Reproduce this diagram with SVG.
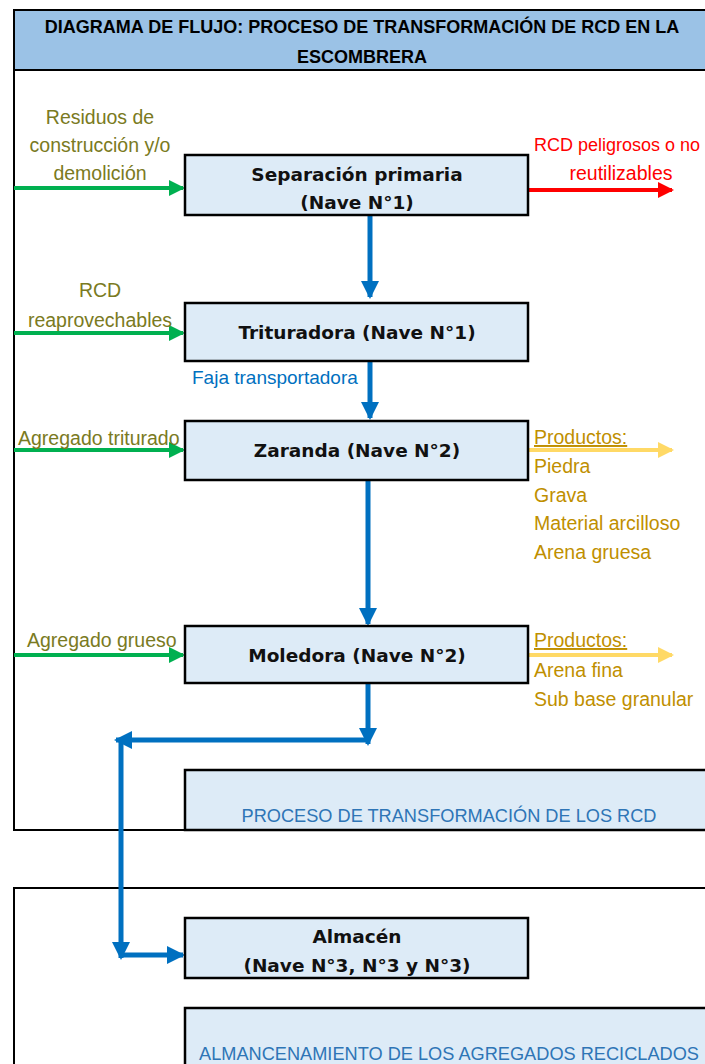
<svg xmlns="http://www.w3.org/2000/svg" width="705" height="1064" viewBox="0 0 705 1064">
<defs>
<style>
.frame{fill:none;stroke:#000;stroke-width:2}
.box{fill:#DDEBF7;stroke:#000;stroke-width:2.5}
.bt{font-family:"DejaVu Sans",Verdana,sans-serif;font-weight:bold;font-size:18.5px;fill:#111;text-anchor:middle}
.title{font-family:"Liberation Sans",Arial,sans-serif;font-weight:bold;font-size:18px;fill:#000;text-anchor:middle}
.gl{font-family:"Liberation Sans",Arial,sans-serif;font-size:19.5px;fill:#7A7A22;text-anchor:middle}
.gls{font-family:"Liberation Sans",Arial,sans-serif;font-size:19.5px;fill:#7A7A22}
.pr{font-family:"Liberation Sans",Arial,sans-serif;font-size:19.5px;fill:#BF8F00}
.red{font-family:"Liberation Sans",Arial,sans-serif;font-size:19.5px;fill:#FF0000}
.red2{font-family:"Liberation Sans",Arial,sans-serif;font-size:18px;fill:#FF0000}
.blt{font-family:"Liberation Sans",Arial,sans-serif;font-size:19px;fill:#0070C0}
.sect{font-family:"Liberation Sans",Arial,sans-serif;font-size:18.2px;fill:#2E75B6;text-anchor:middle}
.g{stroke:#00B050;stroke-width:4;fill:none}
.r{stroke:#FF0000;stroke-width:4;fill:none}
.y{stroke:#FFD966;stroke-width:4;fill:none}
.b{stroke:#0070C0;stroke-width:5;fill:none}
</style>
<marker id="ag" markerUnits="userSpaceOnUse" markerWidth="16" markerHeight="16" refX="14" refY="8" orient="auto"><path d="M0,0 L16,8 L0,16 Z" fill="#00B050"/></marker>
<marker id="ar" markerUnits="userSpaceOnUse" markerWidth="16" markerHeight="16" refX="14" refY="8" orient="auto"><path d="M0,0 L16,8 L0,16 Z" fill="#FF0000"/></marker>
<marker id="ay" markerUnits="userSpaceOnUse" markerWidth="16" markerHeight="16" refX="14" refY="8" orient="auto"><path d="M0,0 L16,8 L0,16 Z" fill="#FFD966"/></marker>
<marker id="ab" markerUnits="userSpaceOnUse" markerWidth="18" markerHeight="18" refX="16" refY="9" orient="auto"><path d="M0,0 L18,9 L0,18 Z" fill="#0070C0"/></marker>
</defs>
<rect width="705" height="1064" fill="#fff"/>

<g id="frame-top">
<path class="frame" d="M14,10 V830 H720"/>
<rect x="14" y="10" width="720" height="60" fill="#9BC2E6" stroke="#000" stroke-width="2"/>
<text class="title" x="362" y="33">DIAGRAMA DE FLUJO: PROCESO DE TRANSFORMACIÓN DE RCD EN LA</text>
<text class="title" x="362" y="63">ESCOMBRERA</text>
</g>
<g id="frame-bottom">
<path class="frame" d="M14,1070 V888 H720"/>
</g>

<g id="connectors">
<path class="g" d="M14,188 H183" marker-end="url(#ag)"/>
<path class="g" d="M14,333 H183" marker-end="url(#ag)"/>
<path class="g" d="M14,450 H183" marker-end="url(#ag)"/>
<path class="g" d="M14,655 H183" marker-end="url(#ag)"/>
<path class="r" d="M529,190 H672" marker-end="url(#ar)"/>
<path class="y" d="M529,450 H672" marker-end="url(#ay)"/>
<path class="y" d="M529,655 H672" marker-end="url(#ay)"/>
<path class="b" d="M370,216 V297" marker-end="url(#ab)"/>
<path class="b" d="M370,362 V418" marker-end="url(#ab)"/>
<path class="b" d="M368,481 V624" marker-end="url(#ab)"/>
<path class="b" d="M368,684 V744" marker-end="url(#ab)"/>
<path class="b" d="M368,740 H116" marker-end="url(#ab)"/>
<path class="b" d="M121,740 V958" marker-end="url(#ab)"/>
<path class="b" d="M121,955 H183" marker-end="url(#ab)"/>
</g>

<g id="labels">
<text class="gl" x="100" y="124">Residuos de</text>
<text class="gl" x="100" y="152">construcción y/o</text>
<text class="gl" x="100" y="180">demolición</text>
<text class="gl" x="100" y="297">RCD</text>
<text class="gl" x="100" y="327">reaprovechables</text>
<text class="gls" x="18" y="445">Agregado triturado</text>
<text class="gls" x="27" y="647">Agregado grueso</text>
<text class="red2" x="534" y="151">RCD peligrosos o no</text>
<text class="red" x="621" y="180" text-anchor="middle">reutilizables</text>
<text class="blt" x="192" y="384">Faja transportadora</text>
<text class="pr" x="534" y="444" text-decoration="underline">Productos:</text>
<text class="pr" x="534" y="473">Piedra</text>
<text class="pr" x="534" y="502">Grava</text>
<text class="pr" x="534" y="530">Material arcilloso</text>
<text class="pr" x="534" y="559">Arena gruesa</text>
<text class="pr" x="534" y="647" text-decoration="underline">Productos:</text>
<text class="pr" x="534" y="677">Arena fina</text>
<text class="pr" x="534" y="706">Sub base granular</text>
</g>

<g id="n-separacion">
<rect class="box" x="185" y="155" width="343" height="60"/>
<text class="bt" x="357" y="181">Separación primaria</text>
<text class="bt" x="357" y="209">(Nave N°1)</text>
</g>
<g id="n-trituradora">
<rect class="box" x="185" y="303" width="343" height="58"/>
<text class="bt" x="357" y="339">Trituradora (Nave N°1)</text>
</g>
<g id="n-zaranda">
<rect class="box" x="185" y="421" width="343" height="59"/>
<text class="bt" x="357" y="457">Zaranda (Nave N°2)</text>
</g>
<g id="n-moledora">
<rect class="box" x="185" y="626" width="343" height="57"/>
<text class="bt" x="357" y="662">Moledora (Nave N°2)</text>
</g>
<g id="n-proceso">
<rect class="box" x="185" y="770" width="560" height="60"/>
<text class="sect" x="449" y="822">PROCESO DE TRANSFORMACIÓN DE LOS RCD</text>
</g>
<g id="n-almacen">
<rect class="box" x="185" y="918" width="343" height="60"/>
<text class="bt" x="357" y="943">Almacén</text>
<text class="bt" x="357" y="972">(Nave N°3, N°3 y N°3)</text>
</g>
<g id="n-almacenamiento">
<rect class="box" x="185" y="1008" width="560" height="70"/>
<text class="sect" x="449" y="1060">ALMANCENAMIENTO DE LOS AGREGADOS RECICLADOS</text>
</g>
</svg>
